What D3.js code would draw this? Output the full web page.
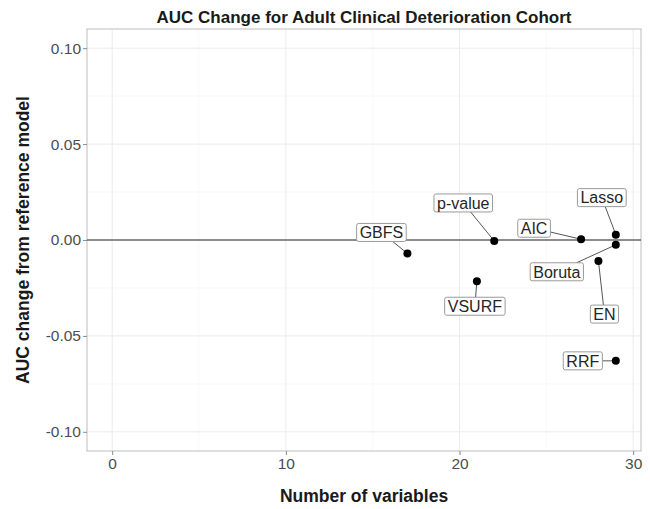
<!DOCTYPE html>
<html>
<head>
<meta charset="utf-8">
<script src="https://cdnjs.cloudflare.com/ajax/libs/d3/7.8.5/d3.min.js"></script>
<style>
  body { margin: 0; background: #fff; }
  svg { font-family: "Liberation Sans", Arial, sans-serif; }
</style>
</head>
<body>
<script>
// data
var methods = ["GBFS", "p-value", "AIC", "Lasso", "Boruta", "VSURF", "EN", "RRF"];
var nVars = [17, 22, 27, 29, 29, 21, 28, 29];
var aucChange = [-0.007, -0.0005, 0.0004, 0.0028, -0.0025, -0.0215, -0.011, -0.063];

var xTicks = [0, 10, 20, 30];
var xMinor = [5, 15, 25];
var yTicks = [-0.10, -0.05, 0.00, 0.05, 0.10];
var yMinor = [-0.075, -0.025, 0.025, 0.075];

// where the repelled labels sit, relative to their point (px)
var labelDx = [-26, -31, -47, -14, -59, -2, 6, -33];
var labelDy = [-21, -38, -11, -37, 27, 25, 53, 0];

var w = 650;
var h = 509;
var pLeft = 87, pRight = 641, pTop = 29, pBottom = 451;

var svg = d3.select("body").append("svg").attr("width", w).attr("height", h);

var x = d3.scaleLinear().domain([-1.45, 30.45]).range([pLeft, pRight]);
var y = d3.scaleLinear().domain([-0.11, 0.11]).range([pBottom, pTop]);

// grid
svg.selectAll("line.vminor").data(xMinor).enter().append("line")
    .attr("x1", function (d) { return x(d); }).attr("x2", function (d) { return x(d); })
    .attr("y1", pTop).attr("y2", pBottom)
    .style("stroke", "#f4f4f4").style("stroke-width", 0.6);
svg.selectAll("line.hminor").data(yMinor).enter().append("line")
    .attr("y1", function (d) { return y(d); }).attr("y2", function (d) { return y(d); })
    .attr("x1", pLeft).attr("x2", pRight)
    .style("stroke", "#f4f4f4").style("stroke-width", 0.6);
svg.selectAll("line.vmajor").data(xTicks).enter().append("line")
    .attr("x1", function (d) { return x(d); }).attr("x2", function (d) { return x(d); })
    .attr("y1", pTop).attr("y2", pBottom)
    .style("stroke", "#ebebeb").style("stroke-width", 1);
svg.selectAll("line.hmajor").data(yTicks).enter().append("line")
    .attr("y1", function (d) { return y(d); }).attr("y2", function (d) { return y(d); })
    .attr("x1", pLeft).attr("x2", pRight)
    .style("stroke", "#ebebeb").style("stroke-width", 1);

// panel border
svg.append("rect")
    .attr("x", pLeft).attr("y", pTop)
    .attr("width", pRight - pLeft).attr("height", pBottom - pTop)
    .style("fill", "none").style("stroke", "#c8c8c8").style("stroke-width", 1.2);

// axes
var xAxis = svg.append("g").attr("transform", "translate(0," + pBottom + ")")
    .call(d3.axisBottom(x).tickValues(xTicks).tickSize(4).tickPadding(3));
var yAxis = svg.append("g").attr("transform", "translate(" + pLeft + ",0)")
    .call(d3.axisLeft(y).tickValues(yTicks).tickSize(4).tickPadding(2)
        .tickFormat(function (d) { return d.toFixed(2); }));
[xAxis, yAxis].forEach(function (g) {
    g.select(".domain").remove();
    g.selectAll(".tick line").style("stroke", "#8a8a8a");
    g.selectAll(".tick text").style("fill", "#4d4d4d").style("font-size", "15.5px");
});

// reference line
svg.append("line")
    .attr("x1", pLeft).attr("x2", pRight)
    .attr("y1", y(0)).attr("y2", y(0))
    .style("stroke", "#6a6a6a").style("stroke-width", 1.6);

// titles
svg.append("text")
    .attr("x", (pLeft + pRight) / 2).attr("y", 23)
    .attr("text-anchor", "middle")
    .style("font-weight", "bold").style("font-size", "17px").style("fill", "#1a1a1a")
    .text("AUC Change for Adult Clinical Deterioration Cohort");
svg.append("text")
    .attr("x", (pLeft + pRight) / 2).attr("y", 502)
    .attr("text-anchor", "middle")
    .style("font-weight", "bold").style("font-size", "17.5px").style("fill", "#1a1a1a")
    .text("Number of variables");
svg.append("text")
    .attr("transform", "translate(29," + ((pTop + pBottom) / 2) + ") rotate(-90)")
    .attr("text-anchor", "middle")
    .style("font-weight", "bold").style("font-size", "17.5px").style("fill", "#1a1a1a")
    .text("AUC change from reference model");

// labels with segments
var pts = methods.map(function (m, i) {
    return { name: m, px: x(nVars[i]), py: y(aucChange[i]), lx: x(nVars[i]) + labelDx[i], ly: y(aucChange[i]) + labelDy[i] };
});

var segG = svg.append("g");
var labG = svg.append("g");

pts.forEach(function (d) {
    var g = labG.append("g");
    var t = g.append("text")
        .attr("x", d.lx).attr("y", d.ly)
        .attr("text-anchor", "middle").attr("dy", "0.36em")
        .style("font-size", "16px").style("fill", "#262626")
        .text(d.name);
    var bb = t.node().getBBox();
    var bw = bb.width + 6, bh = 18;
    g.insert("rect", "text")
        .attr("x", d.lx - bw / 2).attr("y", d.ly - bh / 2)
        .attr("width", bw).attr("height", bh)
        .attr("rx", 2)
        .style("fill", "#fff").style("stroke", "#9a9a9a").style("stroke-width", 1);

    // segment from box edge towards the point
    var dx = d.px - d.lx, dy = d.py - d.ly;
    var s = Math.min(Math.abs((bw / 2) / (dx || 1e-9)), Math.abs((bh / 2) / (dy || 1e-9)));
    if (s < 1) {
        segG.append("line")
            .attr("x1", d.lx + dx * s).attr("y1", d.ly + dy * s)
            .attr("x2", d.px).attr("y2", d.py)
            .style("stroke", "#555").style("stroke-width", 1);
    }
});

// points
svg.append("g").selectAll("circle")
    .data(methods)
    .enter()
    .append("circle")
    .attr("cx", function (d, i) { return x(nVars[i]); })
    .attr("cy", function (d, i) { return y(aucChange[i]); })
    .attr("r", 4)
    .style("fill", "#000");
</script>
</body>
</html>
